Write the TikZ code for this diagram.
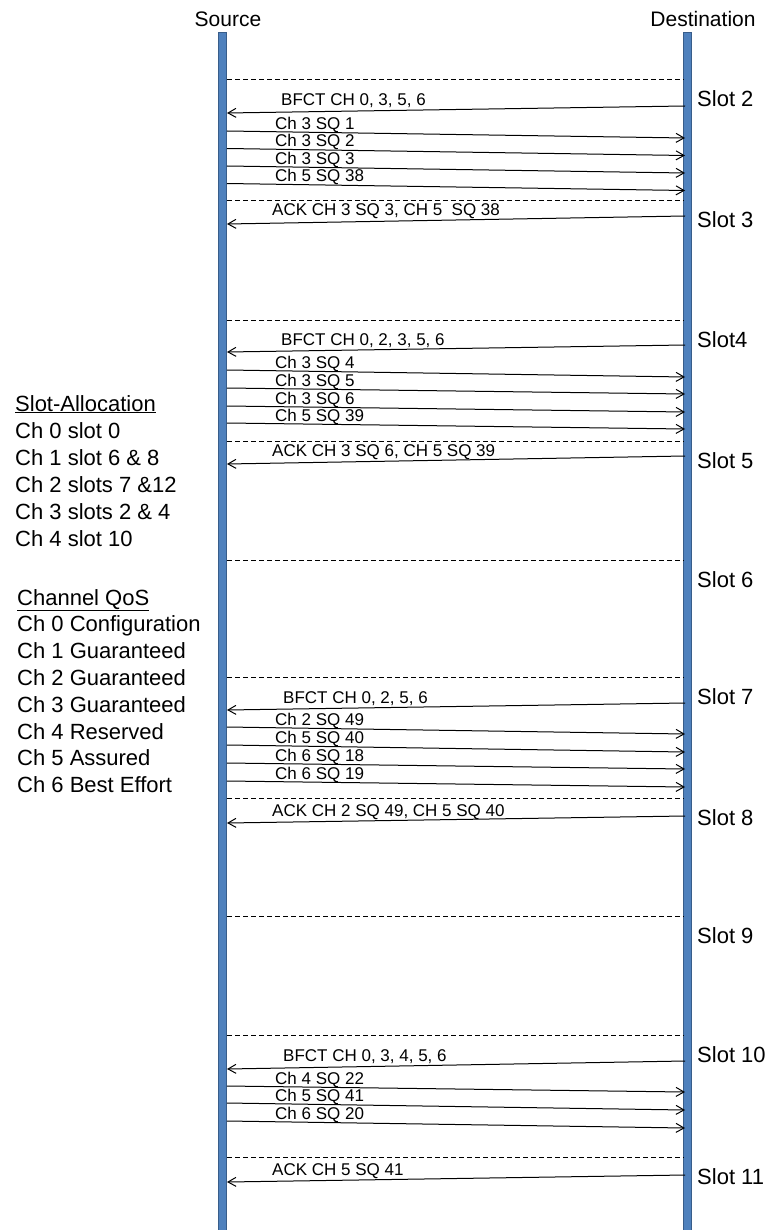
\documentclass[tikz,border=0pt]{standalone}
\usepackage{fontspec}
\setmainfont{Liberation Sans}
\usetikzlibrary{arrows.meta}
\definecolor{barblue}{HTML}{4F81BD}
\definecolor{bardark}{HTML}{385D8A}

\begin{document}
\begin{tikzpicture}[x=1pt, y=-1pt,
    bar/.style={draw=bardark, fill=barblue, line width=1.2pt, minimum width=7.5pt, minimum height=1198pt, anchor=north, inner sep=0pt},
    hdr/.style={font=\fontsize{21}{25}\selectfont, inner sep=0pt, anchor=base},
    slotlbl/.style={font=\fontsize{22}{26}\selectfont, inner sep=0pt, anchor=base west},
    side/.style={font=\fontsize{22}{27}\selectfont, inner sep=0pt, anchor=base west},
    msglbl/.style={font=\fontsize{17}{20}\selectfont, inner sep=0pt, anchor=base west},
    msg/.style={-{Straight Barb[length=8pt,width=9pt]}, line width=1pt},
    slotsep/.style={dash pattern=on 5pt off 3pt, line width=1pt}]
  \useasboundingbox (0,0) rectangle (767,1230);

  % the two time lines
  \node[bar] (src) at (222.5,32) {};
  \node[bar] (dst) at (687.5,32) {};
  \node[hdr] (srclbl) at (228,27) {Source};
  \node[hdr] (dstlbl) at (703,27) {Destination};

  % slot boundaries
  \foreach \d/\s [count=\i] in {80/Slot 2, 201/Slot 3, 320/Slot4, 441/Slot 5, 560/Slot 6,
      677/Slot 7, 798/Slot 8, 916/Slot 9, 1035/Slot 10, 1157/Slot 11}{
    \draw[slotsep] (227,\d) -- (684,\d);
    \node[slotlbl] (slot\i) at (697,\d+27) {\s};
  }

  % destination -> source (BFCT and ACK)
  \foreach \ys/\yd/\lx/\txt [count=\i] in {
      113/106/281/{BFCT CH 0, 3, 5, 6},
      224/216/272/{ACK CH 3 SQ 3, CH 5\ \ SQ 38},
      352/345/281/{BFCT CH 0, 2, 3, 5, 6},
      464/456/272/{ACK CH 3 SQ 6, CH 5 SQ 39},
      710/703/283/{BFCT CH 0, 2, 5, 6},
      823/816/272/{ACK CH 2 SQ 49, CH 5 SQ 40},
      1069/1061/283/{BFCT CH 0, 3, 4, 5, 6},
      1182/1175/272/{ACK CH 5 SQ 41}}{
    \coordinate (bd\i) at (685,\yd);
    \coordinate (bs\i) at (227,\ys);
    \draw[msg] (bd\i) -- (bs\i);
    \node[msglbl] (bl\i) at (\lx,\yd) {\txt};
  }

  % source -> destination (data)
  \foreach \ys/\yd/\txt [count=\i] in {
      131/138/{Ch 3 SQ 1}, 148.5/155.5/{Ch 3 SQ 2}, 166/173/{Ch 3 SQ 3}, 183.5/190.5/{Ch 5 SQ 38},
      370/377/{Ch 3 SQ 4}, 388/394/{Ch 3 SQ 5}, 406/412/{Ch 3 SQ 6}, 423/429/{Ch 5 SQ 39},
      727/734/{Ch 2 SQ 49}, 745/752/{Ch 5 SQ 40}, 763/769/{Ch 6 SQ 18}, 781/787/{Ch 6 SQ 19},
      1086/1092/{Ch 4 SQ 22}, 1103/1110/{Ch 5 SQ 41}, 1121/1128/{Ch 6 SQ 20}}{
    \coordinate (ds\i) at (227,\ys);
    \coordinate (dd\i) at (685,\yd);
    \draw[msg] (ds\i) -- (dd\i);
    \node[msglbl] (dl\i) at (275,\ys-1.5) {\txt};
  }

  % channel tables
  \foreach \t [count=\i from 0] in {\underline{Slot-Allocation}, Ch 0 slot 0, Ch 1 slot 6 \& 8,
      Ch 2 slots 7 \&12, Ch 3 slots 2 \& 4, Ch 4 slot 10}
    \node[side] (alloc\i) at (15,411+27*\i) {\t};
  \foreach \t [count=\i from 0] in {\underline{Channel QoS}, Ch 0 Configuration, Ch 1 Guaranteed,
      Ch 2 Guaranteed, Ch 3 Guaranteed, Ch 4 Reserved, Ch 5 Assured, Ch 6 Best Effort}
    \node[side] (qos\i) at (17,605+26.8*\i) {\t};
\end{tikzpicture}
\end{document}
